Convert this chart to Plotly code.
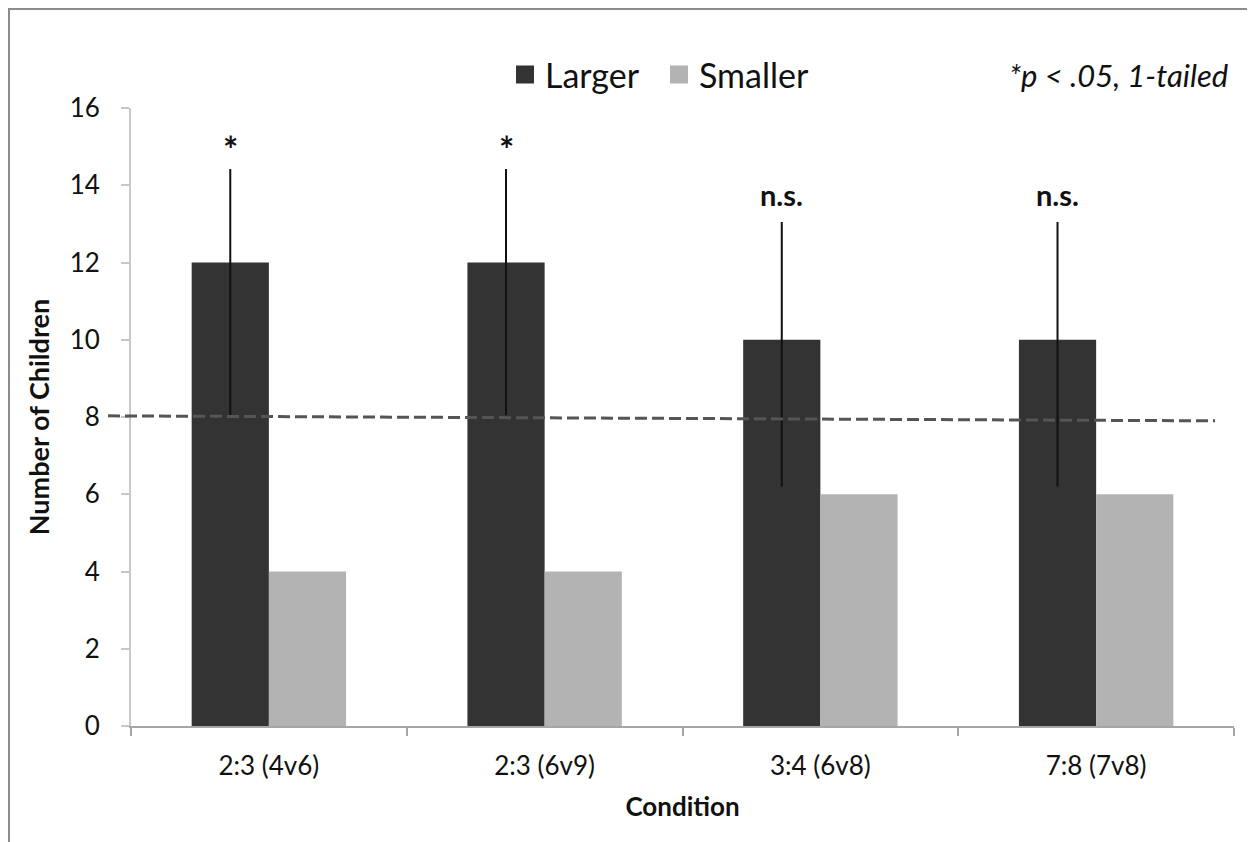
import plotly.graph_objects as go

categories = ["2:3 (4v6)", "2:3 (6v9)", "3:4 (6v8)", "7:8 (7v8)"]
larger = [12, 12, 10, 10]
smaller = [4, 4, 6, 6]
larger_err_plus = [2.42, 2.42, 3.05, 3.05]
larger_err_minus = [3.95, 3.95, 3.8, 3.8]
sig_labels = ["*", "*", "n.s.", "n.s."]
sig_y = [15.1, 15.1, 13.75, 13.75]
chance_y = [8.03, 7.9]
y_ticks = [0, 2, 4, 6, 8, 10, 12, 14, 16]
series_names = ["Larger", "Smaller"]
series_colors = ["#333333", "#b3b3b3"]

FONT = "Lato"
OFF = 8  # page body margin
W, H = 1255 - OFF, 842 - OFF
ML, MR, MT, MB = 131 - OFF, 21, 108 - OFF, 116
pw, ph = W - ML - MR, H - MT - MB


def px_x(sx):
    return (sx - OFF - ML) / pw


def px_y(sy):
    return 1 + (MT - (sy - OFF)) / ph


fig = go.Figure()
fig.add_trace(go.Bar(
    x=categories, y=larger, name=series_names[0], showlegend=False,
    marker=dict(color=series_colors[0], line=dict(width=0)),
    error_y=dict(type="data", symmetric=False, array=larger_err_plus,
                 arrayminus=larger_err_minus, width=0, thickness=2, color="#111111"),
))
fig.add_trace(go.Bar(
    x=categories, y=smaller, name=series_names[1], showlegend=False,
    marker=dict(color=series_colors[1], line=dict(width=0)),
))
# legend entries with larger square swatches
for nm, col in zip(series_names, series_colors):
    fig.add_trace(go.Scatter(
        x=[None], y=[None], mode="markers", name=nm, showlegend=True,
        marker=dict(symbol="square", size=16, color=col, line=dict(color=col, width=2)),
    ))

# chance line
fig.add_shape(type="line", xref="paper", yref="y",
              x0=px_x(108), x1=px_x(1215),
              y0=chance_y[0], y1=chance_y[1],
              line=dict(color="#555555", width=3, dash="12px,5px"), layer="above")

# frame
fig.add_shape(type="rect", xref="paper", yref="paper",
              x0=px_x(9), x1=px_x(1270),
              y0=-0.4, y1=px_y(9),
              line=dict(color="#8c8c8c", width=2), fillcolor="rgba(0,0,0,0)", layer="below")

# significance labels
for i, (lab, yy) in enumerate(zip(sig_labels, sig_y)):
    fig.add_annotation(x=i - 0.14, y=yy, xref="x", yref="y", text=f"<b>{lab}</b>",
                       showarrow=False,
                       font=dict(family=FONT, size=36 if lab == "*" else 29, color="#111111"),
                       yshift=-6 if lab == "*" else 0)

fig.add_annotation(xref="paper", yref="paper", x=px_x(1230), y=px_y(75),
                   xanchor="right", yanchor="middle", showarrow=False,
                   text="<i>*p &lt; .05, 1-tailed</i>",
                   font=dict(family=FONT, size=31, color="#111111"))

fig.update_layout(
    width=W, height=H,
    margin=dict(l=ML, r=MR, t=MT, b=MB),
    paper_bgcolor="white", plot_bgcolor="white",
    barmode="group", bargap=0.44, bargroupgap=0,
    font=dict(family=FONT, color="#111111"),
    showlegend=True,
    legend=dict(orientation="h", x=px_x(505), xanchor="left",
                y=px_y(75), yanchor="middle", entrywidth=109, entrywidthmode="pixels",
                font=dict(family=FONT, size=34, color="#111111"),
                itemwidth=30, traceorder="normal", bgcolor="rgba(0,0,0,0)"),
    xaxis=dict(type="category", tickson="boundaries", ticks="outside", ticklen=8,
               tickcolor="#a6a6a6", tickwidth=2,
               showline=True, linecolor="#a6a6a6", linewidth=2, showgrid=False,
               tickfont=dict(family=FONT, size=26, color="#111111"),
               ticklabelstandoff=16,
               title=dict(text="<b>Condition</b>", font=dict(family=FONT, size=26, color="#111111"),
                          standoff=18)),
    yaxis=dict(range=[0, 16], tickvals=y_ticks, ticks="outside", ticklen=8,
               tickcolor="#c8c8c8", tickwidth=2,
               showline=True, linecolor="#c8c8c8", linewidth=2, showgrid=False,
               zeroline=False,
               tickfont=dict(family=FONT, size=26, color="#111111"),
               ticklabelstandoff=16,
               title=dict(text="<b>Number of Children</b>", font=dict(family=FONT, size=27, color="#111111"),
                          standoff=12)),
)

fig.write_html("out.html")
